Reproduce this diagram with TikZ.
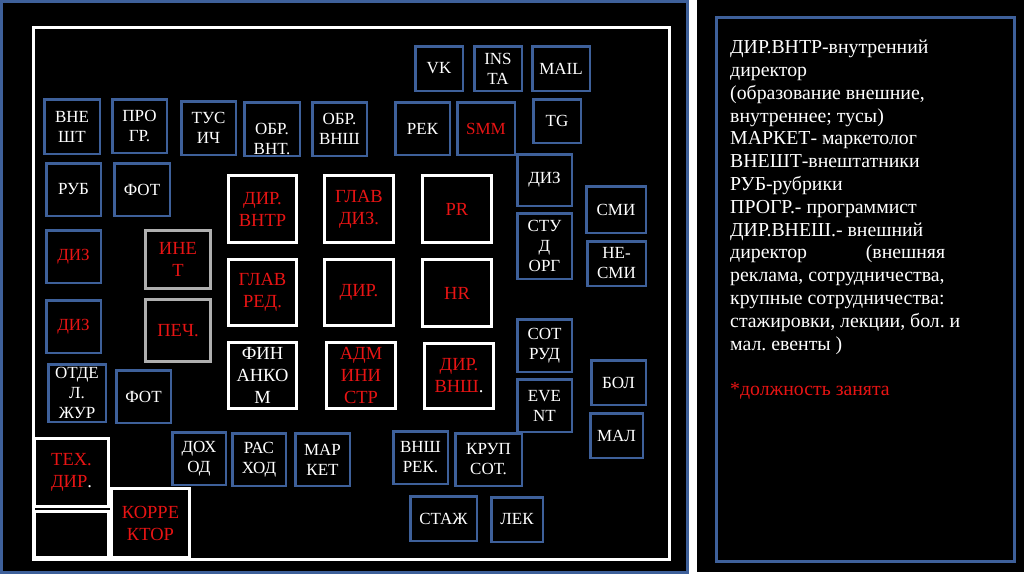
\documentclass[tikz,border=0pt]{standalone}
\usepackage{fontspec}
\setmainfont{Liberation Serif}
\usetikzlibrary{positioning}
\definecolor{tileblue}{RGB}{62,96,154}
\definecolor{alertred}{RGB}{232,20,20}
\definecolor{tilegray}{RGB}{175,175,175}
\newcommand{\tilefont}{\fontsize{17}{20}\selectfont}
\newcommand{\corefont}{\fontsize{18.5}{22}\selectfont}
\newcommand{\notefont}{\fontsize{19.8}{22.8}\selectfont}
\frenchspacing

\begin{document}
\begin{tikzpicture}[x=1pt, y=-1pt,
    bluetile/.style={rectangle, draw=tileblue, line width=2.5pt, fill=black,
                     text=white, align=center, inner sep=0pt, font=\tilefont},
    whitetile/.style={bluetile, draw=white, line width=3pt, text=alertred, font=\corefont},
    graytile/.style={whitetile, draw=tilegray},
    sz/.style 2 args={minimum width=#1, minimum height=#2}
]
    \useasboundingbox (0,0) rectangle (1024,574);
    \fill[white] (0,0) rectangle (1024,574);

    % Left panel
    \fill[black] (0,0) rectangle (689,574);
    \draw[tileblue, line width=3pt] (1.5,1.5) rectangle (687,572.5);
    \draw[white, line width=3pt] (33.5,27) rectangle (669.5,559.5);

    % Right panel
    \fill[black] (697,0) rectangle (1024,572);
    \draw[tileblue, line width=3pt] (716.5,17.5) rectangle (1014.5,561.5);

    % Core (white)
    \node[whitetile, sz={68pt}{67pt}] (dirvntr) at (262.5,209) {ДИР.\\ВНТР};
    \node[whitetile, sz={69pt}{67pt}] (glavdiz) at (359,209) {ГЛАВ\\ДИЗ.};
    \node[whitetile, sz={69pt}{67pt}] (pr) at (457,209) {PR};
    \node[whitetile, sz={68pt}{66pt}] (glavred) at (262.5,292.5) {ГЛАВ\\РЕД.};
    \node[whitetile, sz={69pt}{66pt}] (dir) at (359,292.5) {ДИР.};
    \node[whitetile, sz={69pt}{67pt}] (hr) at (457,293) {HR};
    \node[whitetile, sz={68pt}{66pt}, text=white] (finankom) at (262.5,375.5) {ФИН\\АНКО\\М};
    \node[whitetile, sz={69pt}{66pt}] (admin) at (361,375.5) {АДМ\\ИНИ\\СТР};
    \node[whitetile, sz={69pt}{65pt}, text=white] (dirvnsh) at (459,376)
        {\textcolor{alertred}{ДИР.}\\\textcolor{alertred}{ВНШ}.};
    \node[whitetile, sz={74pt}{68pt}, text=white] (tehdir) at (71.5,472.5)
        {\textcolor{alertred}{ТЕХ.}\\\textcolor{alertred}{ДИР}.};
    \node[whitetile, sz={74pt}{46pt}] (spare) at (71.5,534.5) {};
    \node[whitetile, sz={78pt}{69pt}] (korrektor) at (150.5,523) {КОРРЕ\\КТОР};

    % Gray
    \node[graytile, sz={65pt}{58pt}] (inet) at (178,259.5) {ИНЕ\\Т};
    \node[graytile, sz={65pt}{62pt}] (pech) at (178,330.5) {ПЕЧ.};

    % Top row
    \node[bluetile, sz={47.5pt}{44.5pt}] (vk) at (439,68.5) {VK};
    \node[bluetile, sz={47.5pt}{44.5pt}] (insta) at (498,68.5) {INS\\TA};
    \node[bluetile, sz={57.5pt}{44.5pt}] (mail) at (561,68.5) {MAIL};
    \node[bluetile, sz={55.5pt}{54.5pt}] (vnesht) at (72,126.5) {ВНЕ\\ШТ};
    \node[bluetile, sz={54.5pt}{53.5pt}] (progr) at (139.5,126) {ПРО\\ГР.};
    \node[bluetile, sz={54.5pt}{53.5pt}] (tusich) at (208.5,128) {ТУС\\ИЧ};
    \node[bluetile, sz={55.5pt}{53.5pt},
          label={[align=center, font=\tilefont, text=white, yshift=-10pt]center:ОБР.\\ВНТ.}]
          (obrvnt) at (272,129) {};
    \node[bluetile, sz={54.5pt}{53.5pt}] (obrvnsh) at (339.5,129) {ОБР.\\ВНШ};
    \node[bluetile, sz={54.5pt}{52.5pt}] (rek) at (422.5,128.5) {РЕК};
    \node[bluetile, sz={57.5pt}{52.5pt}, text=alertred] (smm) at (486,128.5) {SMM};
    \node[bluetile, sz={47.5pt}{43.5pt}] (tg) at (557,121) {TG};

    % Left column
    \node[bluetile, sz={54.5pt}{52.5pt}] (rub) at (73.5,189.5) {РУБ};
    \node[bluetile, sz={55.5pt}{52.5pt}] (fottop) at (142,189.5) {ФОТ};
    \node[bluetile, sz={54.5pt}{52.5pt}, text=alertred] (dizleft) at (73.5,256.5) {ДИЗ};
    \node[bluetile, sz={54.5pt}{52.5pt}, text=alertred] (dizlow) at (73.5,326.5) {ДИЗ};
    \node[bluetile, sz={57.5pt}{57.5pt}] (otdel) at (77,393) {ОТДЕ\\Л.\\ЖУР};
    \node[bluetile, sz={54.5pt}{52.5pt}] (fotlow) at (143.5,396.5) {ФОТ};

    % Bottom row
    \node[bluetile, sz={53.5pt}{52.5pt}] (dohod) at (199,458.5) {ДОХ\\ОД};
    \node[bluetile, sz={53.5pt}{52.5pt}] (rashod) at (259,459.5) {РАС\\ХОД};
    \node[bluetile, sz={54.5pt}{52.5pt}] (market) at (322.5,459.5) {МАР\\КЕТ};
    \node[bluetile, sz={54.5pt}{52.5pt}] (vnshrek) at (420.5,457.5) {ВНШ\\РЕК.};
    \node[bluetile, sz={66.5pt}{52.5pt}] (krupsot) at (488.5,459.5) {КРУП\\СОТ.};
    \node[bluetile, sz={66.5pt}{44.5pt}] (stazh) at (443.5,518.5) {СТАЖ};
    \node[bluetile, sz={51.5pt}{44.5pt}] (lek) at (517,519.5) {ЛЕК};

    % Right column
    \node[bluetile, sz={54.5pt}{51.5pt}] (dizright) at (544.5,180) {ДИЗ};
    \node[bluetile, sz={54.5pt}{65.5pt}] (studorg) at (544.5,246) {СТУ\\Д\\ОРГ};
    \node[bluetile, sz={54.5pt}{52.5pt}] (sotrud) at (544.5,345.5) {СОТ\\РУД};
    \node[bluetile, sz={54.5pt}{52.5pt}] (event) at (544.5,405.5) {EVE\\NT};
    \node[bluetile, sz={59.5pt}{46.5pt}] (smi) at (616,209.5) {СМИ};
    \node[bluetile, sz={58.5pt}{44.5pt}] (nesmi) at (616.5,263.5) {НЕ-\\СМИ};
    \node[bluetile, sz={54.5pt}{44.5pt}] (bol) at (618.5,382.5) {БОЛ};
    \node[bluetile, sz={52.5pt}{44.5pt}] (mal) at (616.5,435.5) {МАЛ};

    % Legend
    \node[anchor=north west, inner sep=0pt, align=left, text=white, font=\notefont]
        (legend) at (730,40) {ДИР.ВНТР-внутренний\\
        директор\\
        (образование внешние,\\
        внутреннее; тусы)\\
        МАРКЕТ- маркетолог\\
        ВНЕШТ-внештатники\\
        РУБ-рубрики\\
        ПРОГР.- программист\\
        ДИР.ВНЕШ.- внешний\\
        \hbox to 215pt{директор\hfill(внешняя}\\
        реклама, сотрудничества,\\
        крупные сотрудничества:\\
        стажировки, лекции, бол. и\\
        мал. евенты )\\[22.8pt]
        \textcolor{alertred}{*должность занята}};

\end{tikzpicture}
\end{document}
